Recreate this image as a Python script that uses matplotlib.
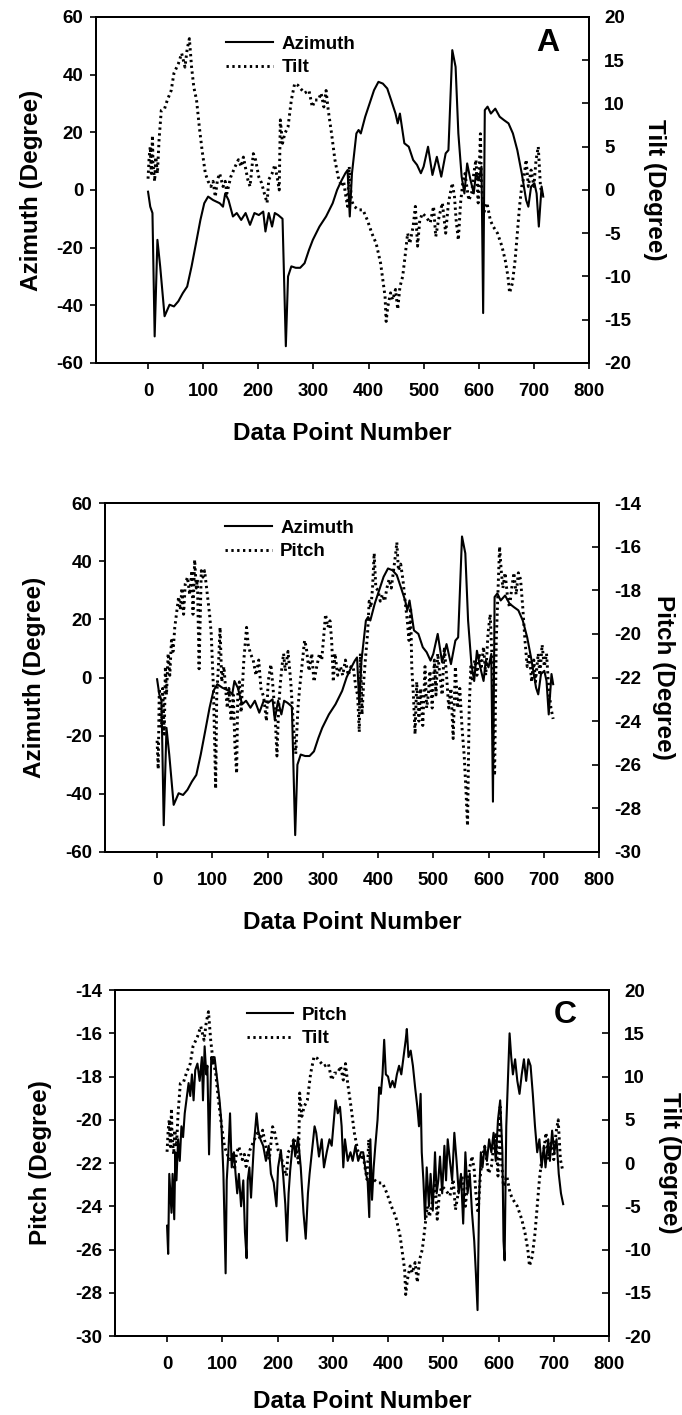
import matplotlib
matplotlib.use('Agg')
import matplotlib.pyplot as plt

# ---------------- data ----------------
az_x = [0, 4, 8, 12, 17, 22, 30, 39, 47, 55, 63, 71, 79, 87, 95, 102, 109, 118, 130, 136,
        140, 146, 154, 161, 169, 177, 185, 193, 201, 209, 213, 219, 225, 230, 236, 244,
        250, 254, 260, 268, 276, 284, 292, 299, 311, 323, 335, 343, 350, 358, 362, 366,
        370, 378, 382, 386, 394, 402, 410, 418, 426, 434, 441, 449, 453, 457, 465, 473,
        481, 488, 495, 500, 508, 516, 524, 532, 540, 545, 552, 558, 563, 569, 574, 579,
        585, 591, 595, 600, 605, 608, 611, 616, 622, 630, 638, 646, 654, 662, 670, 678,
        686, 690, 695, 701, 705, 709, 714, 717]
az_y = [-0.6, -5.8, -8, -50.8, -17.3, -26.5, -43.8, -39.8, -40.4, -38.6, -35.8, -33.5, -26.5,
        -18.5, -10.4, -4.6, -2.3, -3.5, -4.6, -5.8, -1.2, -3.5, -9.2, -8, -10.4, -8, -12.1,
        -8, -8.7, -7.5, -14.4, -8, -12.7, -8, -8.7, -10, -54.2, -30, -26.5, -27, -27, -25.4,
        -20.8, -17.3, -12.7, -9.2, -4.6, 0, 2.9, 5.8, 6.9, -9.2, 5.8, 19.6, 20.8, 19.6, 25.4,
        30, 34.6, 37.5, 36.9, 35.2, 31.2, 26.5, 23.1, 26.5, 16.2, 15, 10.4, 8.7, 5.8, 8.1,
        15, 5.2, 11.5, 4.6, 12.7, 13.8, 48.5, 42.7, 19.6, 4.6, -1.2, 9.2, 3.5, -1.2, 5.8,
        3.5, 8.1, -42.7, 27.7, 28.9, 26.5, 28.2, 25.4, 24.2, 23.1, 19.6, 13.8, 5.8, -3.5,
        -5.8, 1.2, 2.3, -1.2, -12.7, 1.2, -2.3]

tilt_x = [0, 2, 4, 6, 8, 9, 12, 14, 17, 20, 24, 30, 35, 42, 47, 55, 61, 67, 71, 75, 79, 83,
          88, 93, 98, 104, 109, 114, 118, 122, 126, 130, 136, 140, 143, 150, 158, 164, 169,
          173, 181, 185, 191, 195, 201, 206, 211, 216, 219, 225, 230, 235, 238, 240, 244,
          248, 254, 260, 266, 272, 277, 284, 292, 298, 303, 309, 314, 319, 323, 327, 333,
          339, 345, 351, 355, 358, 362, 365, 369, 374, 382, 390, 398, 406, 414, 422, 426,
          430, 432, 435, 440, 444, 449, 453, 457, 462, 467, 471, 475, 481, 485, 489, 493,
          498, 504, 512, 518, 522, 528, 534, 540, 545, 552, 556, 559, 563, 567, 571, 575,
          582, 587, 591, 595, 599, 603, 605, 609, 615, 621, 626, 634, 642, 648, 653, 656,
          661, 666, 670, 674, 678, 682, 686, 690, 695, 700, 704, 708, 712, 716]
tilt_y = [1.3, 3.8, 5, 1.9, 6.3, 3.1, 1, 3.8, 1.9, 5.8, 9.2, 9.4, 10.4, 11.5, 13.5, 14.6, 15.8,
          14.2, 16.3, 17.5, 14.2, 11.9, 10.4, 7.3, 4.6, 1.9, 1, 0.4, 1, -0.8, 1.2, 1.9, 0.4,
          1, -0.4, 1.5, 2.7, 3.5, 2.7, 3.8, 1.2, 0.4, 4.2, 3.5, 1.5, 0.8, -0.4, -1.5, 1.2,
          1.9, 2.9, 1.2, 0, 8.1, 5.4, 6.5, 7.3, 10.4, 12.3, 12.1, 11.7, 11.2, 11.5, 9.6, 10.4,
          10.4, 11.2, 9.6, 11.5, 9.2, 6.5, 3.5, 1.5, 0.4, 1, -0.4, -1.9, 2.7, -1.2, -1.9,
          -2.3, -2.3, -3.5, -5, -6.2, -8.5, -10.4, -12.3, -15.2, -13.5, -11.9, -12.7, -11.5,
          -13.8, -11.2, -10, -7.3, -5, -6.2, -4.2, -1.9, -6.5, -3.5, -2.7, -3.1, -3.8, -1.9,
          -5.4, -3.1, -1.5, -5, -1.5, 0.8, -0.8, -3.5, -5.8, -1.5, 0.8, 1.9, -1.2, -0.4, 1.9,
          3.5, -1.5, 6.5, 0.4, -2.7, -1.5, -3.5, -4.2, -5, -6.5, -8.1, -10, -11.9, -10.8,
          -8.1, -5, -1.9, 0.4, 1.5, 3.5, 0.4, 2.3, 0.4, 3.5, 5, 0.4, -0.8]

pitch_x = [0, 2, 4, 6, 8, 10, 13, 15, 17, 20, 23, 26, 29, 32, 35, 39, 42, 45, 48, 51, 55, 59,
           63, 65, 68, 71, 73, 76, 80, 83, 86, 91, 95, 98, 102, 106, 108, 111, 114, 117, 121,
           124, 127, 130, 134, 138, 141, 144, 146, 149, 152, 157, 162, 165, 169, 174, 179,
           184, 188, 193, 198, 201, 206, 210, 214, 217, 220, 223, 226, 229, 232, 237, 242,
           247, 251, 255, 258, 262, 267, 270, 275, 280, 284, 289, 294, 298, 302, 305, 309,
           313, 316, 319, 322, 327, 332, 336, 341, 346, 351, 355, 360, 363, 366, 368, 371,
           374, 377, 381, 384, 387, 390, 393, 396, 400, 404, 408, 412, 416, 420, 424, 428,
           432, 434, 437, 441, 445, 449, 453, 456, 459, 461, 464, 467, 470, 474, 477, 481,
           485, 488, 491, 494, 498, 502, 505, 508, 512, 516, 520, 524, 528, 532, 536, 540,
           544, 548, 552, 556, 559, 562, 565, 568, 571, 575, 579, 583, 587, 591, 595, 599,
           603, 607, 609, 611, 614, 617, 620, 623, 626, 630, 634, 638, 642, 646, 650, 654,
           658, 662, 666, 670, 674, 678, 682, 685, 690, 693, 697, 701, 705, 709, 713, 717]
pitch_y = [-24.9, -26.2, -22.5, -23.4, -24.3, -22.5, -24.6, -21.5, -22.8, -20.9, -21.9, -20.3,
           -20.8, -19.7, -19.1, -18.3, -18.9, -17.9, -19.1, -17.7, -17.4, -18.2, -17.1, -19.1,
           -16.6, -17.9, -17.5, -21.6, -17.1, -17.4, -17.1, -18.2, -19.1, -20, -22.5, -27.1,
           -22.8, -21.5, -19.7, -22.2, -21.5, -22.5, -23.4, -22.5, -24, -22.8, -25.2, -26.4,
           -22.8, -22.2, -23.6, -21.2, -19.7, -20.5, -20.9, -21.2, -21.9, -21.2, -22.5, -22.9,
           -24, -22.2, -21.4, -22.5, -23.9, -25.6, -23.4, -22.3, -21.5, -20.9, -21.7, -20.8,
           -22.2, -24.3, -25.5, -23.4, -22.5, -21.5, -20.3, -20.6, -21.7, -20.9, -22.2, -21.5,
           -20.9, -21.2, -20, -19.1, -19.7, -19.4, -20.3, -22.2, -20.9, -21.9, -21.5, -21.9,
           -21.2, -21.9, -21.5, -21.5, -22.5, -22.8, -24.5, -20.9, -23.7, -22.2, -21.2, -20,
           -18.5, -18.8, -17.9, -16.3, -17.9, -18, -18.5, -18.2, -18.5, -17.9, -17.5, -17.9,
           -17.1, -16.3, -15.8, -17.1, -16.8, -17.5, -18.5, -19.4, -20.3, -18.8, -21.5, -22.8,
           -24.6, -22.2, -24, -22.5, -24.2, -21.5, -23.4, -22.8, -21.7, -23.4, -21.2, -22.8,
           -20.9, -21.9, -22.8, -20.6, -21.9, -23.4, -22.5, -24.8, -21.5, -23.4, -22.5, -24.3,
           -25.6, -27.1, -28.8, -23.4, -21.5, -22.2, -21.2, -21.9, -20.9, -21.5, -20.6, -21.9,
           -20, -19.1, -21.5, -25.6, -26.5, -20.3, -18.2, -16, -17.1, -17.9, -17.2, -18.2,
           -18.8, -17.9, -17.2, -18.2, -17.2, -17.5, -18.8, -20.3, -21.5, -20.9, -22.2, -21.2,
           -22.2, -20.9, -21.9, -20.5, -21.5, -20.9, -22.5, -23.4, -23.9]

x_ticks = [0, 100, 200, 300, 400, 500, 600, 700, 800]
az_ticks = [-60, -40, -20, 0, 20, 40, 60]
tilt_ticks = [-20, -15, -10, -5, 0, 5, 10, 15, 20]
pitch_ticks = [-30, -28, -26, -24, -22, -20, -18, -16, -14]

# ---------------- style ----------------
plt.rcParams['font.family'] = ['Liberation Sans', 'DejaVu Sans']
plt.rcParams['font.weight'] = 'bold'
plt.rcParams['axes.unicode_minus'] = False
TICKSIZE = 13.5
LABELSIZE = 17.5
LEGSIZE = 13.5
DOT = (0, (0.8, 1.2))

fig = plt.figure(figsize=(6.82, 14.15), dpi=100)


def panel(rect, left, right, lticks, rticks, llabel, rlabel, names, letter, leg_xy,
          lab_x, xlab_pad):
    ax = fig.add_axes(rect)
    ax2 = ax.twinx()
    h1, = ax.plot(left[0], left[1], color='black', lw=1.5, ls='-', label=names[0])
    h2, = ax2.plot(right[0], right[1], color='black', lw=2.1, ls=DOT, label=names[1])
    ax.set_xlim(-95, 800)
    ax.set_xticks(x_ticks)
    ax.set_ylim(lticks[0], lticks[-1])
    ax.set_yticks(lticks)
    ax2.set_ylim(rticks[0], rticks[-1])
    ax2.set_yticks(rticks)
    for a in (ax, ax2):
        for s in a.spines.values():
            s.set_linewidth(1.4)
    ax.tick_params(axis='x', direction='out', length=4, width=1.2, pad=10.5,
                   labelsize=TICKSIZE)
    ax.tick_params(axis='y', direction='out', length=4, width=1.2, pad=5,
                   labelsize=TICKSIZE)
    ax2.tick_params(axis='y', direction='in', length=5, width=1.2, pad=11,
                    labelsize=TICKSIZE)
    ax.set_xlabel('Data Point Number', fontsize=LABELSIZE, fontweight='bold',
                  labelpad=xlab_pad)
    ax.set_ylabel(llabel, fontsize=LABELSIZE, fontweight='bold')
    ax.yaxis.set_label_coords(lab_x[0], 0.5)
    ax2.set_ylabel(rlabel, fontsize=LABELSIZE, fontweight='bold', rotation=270,
                   va='bottom')
    ax2.yaxis.set_label_coords(lab_x[1], 0.5)
    ax.legend(handles=[h1, h2], loc='upper left', bbox_to_anchor=leg_xy, frameon=False,
              fontsize=LEGSIZE, handlelength=2.5, handletextpad=0.45, labelspacing=0.33,
              borderpad=0, borderaxespad=0)
    if letter:
        ax.text(letter[1], letter[2], letter[0], transform=ax.transAxes, fontsize=23,
                fontweight='bold', ha='center', va='center')
    return ax


panel([0.1403, 0.7435, 0.7233, 0.2445], (az_x, az_y), (tilt_x, tilt_y),
      az_ticks, tilt_ticks, 'Azimuth (Degree)', 'Tilt (Degree)', ['Azimuth', 'Tilt'],
      ('A', 0.917, 0.925), (0.265, 0.946), (-0.107, 1.109), 16)
panel([0.1534, 0.3979, 0.7249, 0.2466], (az_x, az_y), (pitch_x, pitch_y),
      az_ticks, pitch_ticks, 'Azimuth (Degree)', 'Pitch (Degree)', ['Azimuth', 'Pitch'], None,
      (0.243, 0.952), (-0.1185, 1.107), 16)
panel([0.168, 0.0558, 0.725, 0.2445], (pitch_x, pitch_y), (tilt_x, tilt_y),
      pitch_ticks, tilt_ticks, 'Pitch (Degree)', 'Tilt (Degree)', ['Pitch', 'Tilt'],
      ('C', 0.911, 0.928), (0.267, 0.952), (-0.1266, 1.099), 12)

fig.savefig('out.png', dpi=100, facecolor='white')
